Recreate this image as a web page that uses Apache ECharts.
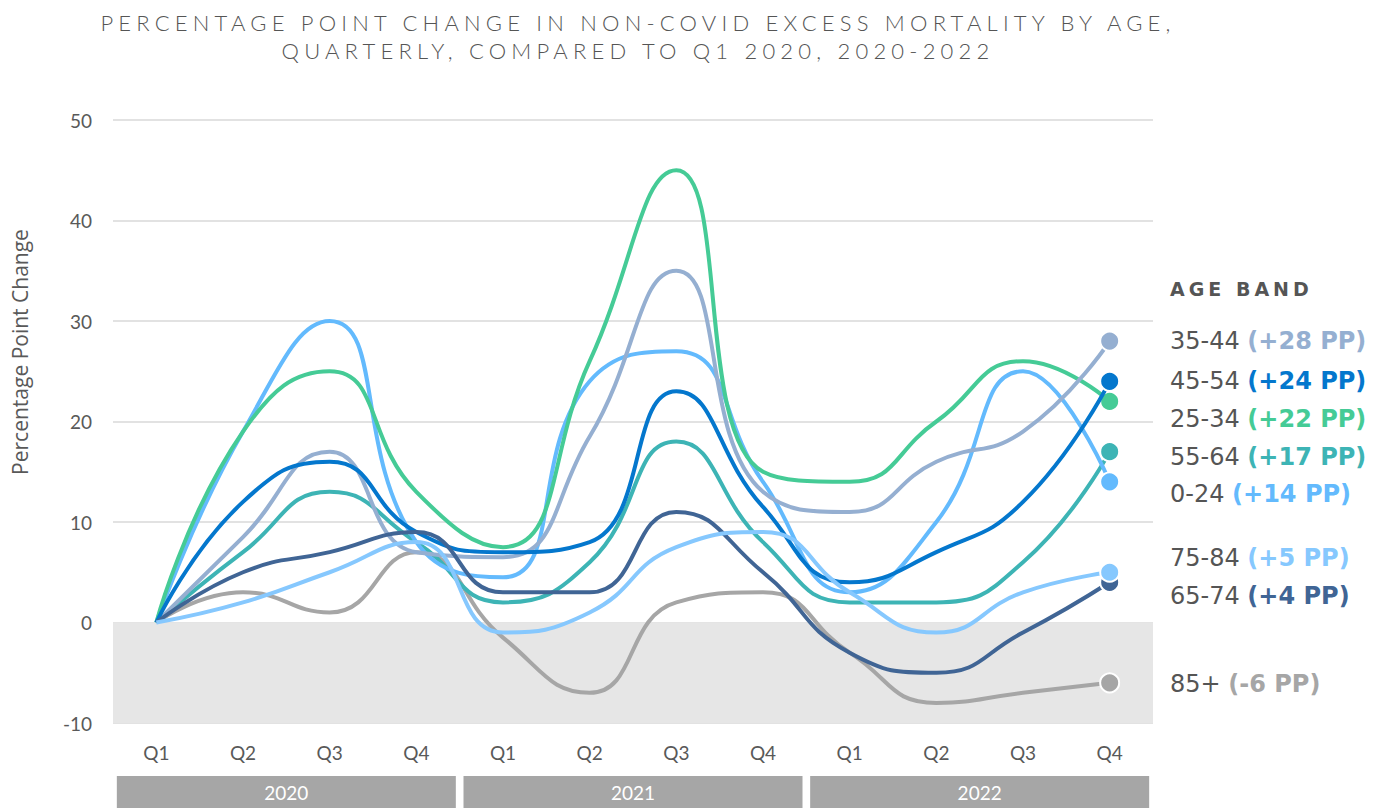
<!DOCTYPE html>
<html>
<head>
<meta charset="utf-8">
<script src="https://cdn.jsdelivr.net/npm/echarts@6/dist/echarts.min.js"></script>
<style>
html,body{margin:0;padding:0;background:#fff;}
#c{width:1380px;height:808px;}
text[style*="SpacedTitle"]{letter-spacing:5.2px;}
text[style*="SpacedHead"]{letter-spacing:4px;}
</style>
</head>
<body>
<div id="c"></div>
<script>
// ---------------- DATA ----------------
const years = ['2020', '2021', '2022'];
const categories = [
  'Q1 2020','Q2 2020','Q3 2020','Q4 2020',
  'Q1 2021','Q2 2021','Q3 2021','Q4 2021',
  'Q1 2022','Q2 2022','Q3 2022','Q4 2022'
];
const ageBands = ['0-24','25-34','35-44','45-54','55-64','65-74','75-84','85+'];

const age0_24  = [0, 19, 30, 8, 4.5, 24, 27, 14, 3, 10, 25, 14];
const age25_34 = [0, 19, 25, 13, 7.5, 26, 45, 15, 14, 20, 26, 22];
const age35_44 = [0, 8.5, 17, 7, 6.5, 18.5, 35, 13, 11, 16, 19, 28];
const age45_54 = [0, 12, 16, 9, 7, 8, 23, 11.5, 4, 7, 12, 24];
const age55_64 = [0, 7, 13, 8, 2, 6, 18, 8, 2, 2, 6, 17];
const age65_74 = [0, 5, 7, 9, 3, 3, 11, 5, -3, -5, -1, 4];
const age75_84 = [0, 2, 5, 8, -1, 1, 7.5, 9, 3, -1, 3, 5];
const age85plus = [0, 3, 1, 7, -1.5, -7, 2, 3, -3, -8, -7, -6];

const yMin = -10, yMax = 50, yInterval = 10;
const yearBandValues = [1, 1, 1];

const titleText = 'PERCENTAGE POINT CHANGE IN NON-COVID EXCESS MORTALITY BY AGE,\nQUARTERLY, COMPARED TO Q1 2020, 2020-2022';
const yAxisTitle = 'Percentage Point Change';
const legendTitle = 'AGE BAND';

// ---------------- STYLE / LAYOUT ----------------
const colors = {
  '0-24':  '#63BAFD',
  '25-34': '#45CB96',
  '35-44': '#95AFD1',
  '45-54': '#0477CD',
  '55-64': '#3DB4B5',
  '65-74': '#406595',
  '75-84': '#86C8FE',
  '85+':   '#A6A6A6'
};
const drawOrder = ['85+','55-64','0-24','25-34','35-44','45-54','65-74','75-84'];
const labelRowY = [341, 381, 419, 457, 494, 558, 596, 684];
const textGray = '#595959';

const valuesByBand = {
  '0-24': age0_24, '25-34': age25_34, '35-44': age35_44, '45-54': age45_54,
  '55-64': age55_64, '65-74': age65_74, '75-84': age75_84, '85+': age85plus
};

function toItems(arr) {
  return arr.map((v, i) => i === arr.length - 1
    ? { value: v, symbol: 'circle', symbolSize: 19 }
    : { value: v });
}

const lineSeries = drawOrder.map((band, k) => {
  const s = {
    name: band,
    type: 'line',
    xAxisIndex: 0, yAxisIndex: 0,
    data: toItems(valuesByBand[band]),
    smooth: 0.5,
    symbol: 'none',
    showSymbol: true,
    showAllSymbol: true,
    lineStyle: { color: colors[band], width: 4 },
    itemStyle: { color: colors[band], borderColor: '#fff', borderWidth: 2 },
    emphasis: { disabled: true },
    z: 3 + k
  };
  if (k === 0) {
    s.markArea = {
      silent: true,
      itemStyle: { color: '#E6E6E6' },
      data: [[{ yAxis: yMin }, { yAxis: 0 }]]
    };
  }
  return s;
});

const labelBands = ageBands.slice().sort((a, b) =>
  valuesByBand[b][valuesByBand[b].length - 1] - valuesByBand[a][valuesByBand[a].length - 1]);
const fmtPP = v => '(' + (v >= 0 ? '+' : '') + v + ' PP)';

const graphics = [
  {
    type: 'text', x: 638, y: 36,
    style: { text: titleText, fill: '#555555', fontSize: 22, fontWeight: 300, lineHeight: 28,
             fontFamily: 'SpacedTitle, Lato, sans-serif', align: 'center', verticalAlign: 'middle' }
  },
  {
    type: 'text', x: 20, y: 352, rotation: Math.PI / 2,
    style: { text: yAxisTitle, fill: textGray, fontSize: 21, fontFamily: '"Open Sans", sans-serif',
             align: 'center', verticalAlign: 'middle' }
  },
  {
    type: 'text', x: 1170, y: 289,
    style: { text: legendTitle, fill: '#555555', fontSize: 19, fontWeight: 'bold',
             fontFamily: 'SpacedHead, "DejaVu Sans", sans-serif', align: 'left', verticalAlign: 'middle' }
  }
];
labelBands.forEach((band, i) => {
  const arr = valuesByBand[band];
  const last = arr[arr.length - 1];
  graphics.push({
    type: 'text', x: 1170, y: labelRowY[i],
    style: {
      text: '{n|' + band + ' }{v|' + fmtPP(last) + '}',
      align: 'left', verticalAlign: 'middle',
      rich: {
        n: { fontSize: 24, fontFamily: '"DejaVu Sans", sans-serif', fill: '#555555' },
        v: { fontSize: 24, fontFamily: '"DejaVu Sans", sans-serif', fontWeight: 'bold', fill: colors[band] }
      }
    }
  });
});

const chart = echarts.init(document.getElementById('c'), null, { renderer: 'svg', width: 1380, height: 808 });
chart.setOption({
  animation: false,
  backgroundColor: '#ffffff',
  grid: [
    { left: 113, right: 227, top: 120, bottom: 85 },
    { left: 113, right: 227, top: 776, height: 34 }
  ],
  xAxis: [
    {
      type: 'category', gridIndex: 0, data: categories, boundaryGap: true,
      axisLine: { show: false }, axisTick: { show: false },
      axisLabel: { color: textGray, fontSize: 19, fontFamily: 'Lato, sans-serif', margin: 20,
                   formatter: v => v.split(' ')[0] }
    },
    {
      type: 'category', gridIndex: 1, data: years,
      axisLine: { show: false }, axisTick: { show: false }, axisLabel: { show: false }
    }
  ],
  yAxis: [
    {
      type: 'value', gridIndex: 0, min: yMin, max: yMax, interval: yInterval,
      axisLine: { show: false }, axisTick: { show: false },
      axisLabel: { color: textGray, fontSize: 19, fontFamily: 'Lato, sans-serif', margin: 21 },
      splitLine: { lineStyle: { color: '#D9D9D9', width: 1.5 } }
    },
    {
      type: 'value', gridIndex: 1, min: 0, max: 1, show: false
    }
  ],
  series: lineSeries.concat([
    {
      type: 'bar', xAxisIndex: 1, yAxisIndex: 1,
      data: yearBandValues, barWidth: 339,
      itemStyle: { color: '#A6A6A6' },
      label: { show: true, position: 'inside', formatter: '{b}', color: '#ffffff',
               fontSize: 19, fontFamily: 'Lato, sans-serif' },
      emphasis: { disabled: true }, silent: true
    }
  ]),
  graphic: graphics
});
</script>
</body>
</html>
